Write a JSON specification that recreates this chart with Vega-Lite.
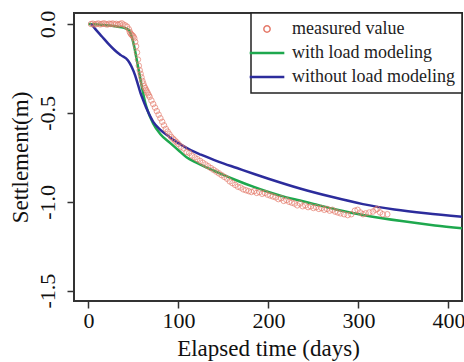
{
  "$schema": "https://vega.github.io/schema/vega-lite/v6.json",
  "width": 388,
  "height": 288,
  "autosize": {"type": "none"},
  "padding": {"left": 74, "top": 13, "right": 2, "bottom": 61},
  "background": "white",
  "config": {
    "font": "Liberation Serif",
    "view": {"stroke": "#333333", "strokeWidth": 2},
    "axis": {"grid": false, "domain": false, "tickColor": "#333333", "tickSize": 7, "tickWidth": 1.5, "labelColor": "#111111", "titleColor": "#111111", "labelFont": "Liberation Serif", "titleFont": "Liberation Serif", "titleFontWeight": "normal"},
    "legend": {"labelFont": "Liberation Serif", "labelFontSize": 18, "labelLimit": 400, "labelColor": "#222222", "strokeColor": "#222222", "padding": 7, "rowPadding": 6, "labelOffset": 16, "symbolSize": 1200, "orient": "top-right", "offset": 0, "fillColor": "white"}
  },
  "data": {"values": [
    {"day": 3, "s": 0.0, "series": "measured value"},
    {"day": 5, "s": 0.002, "series": "measured value"},
    {"day": 7, "s": -0.003, "series": "measured value"},
    {"day": 9, "s": 0.0, "series": "measured value"},
    {"day": 11, "s": 0.003, "series": "measured value"},
    {"day": 13, "s": -0.002, "series": "measured value"},
    {"day": 15, "s": 0.0, "series": "measured value"},
    {"day": 17, "s": 0.004, "series": "measured value"},
    {"day": 19, "s": 0.0, "series": "measured value"},
    {"day": 21, "s": -0.003, "series": "measured value"},
    {"day": 23, "s": 0.002, "series": "measured value"},
    {"day": 25, "s": 0.0, "series": "measured value"},
    {"day": 27, "s": 0.003, "series": "measured value"},
    {"day": 29, "s": -0.002, "series": "measured value"},
    {"day": 31, "s": 0.001, "series": "measured value"},
    {"day": 33, "s": -0.004, "series": "measured value"},
    {"day": 35, "s": 0.0, "series": "measured value"},
    {"day": 37, "s": 0.004, "series": "measured value"},
    {"day": 39, "s": -0.003, "series": "measured value"},
    {"day": 41, "s": -0.008, "series": "measured value"},
    {"day": 43, "s": -0.015, "series": "measured value"},
    {"day": 45, "s": -0.03, "series": "measured value"},
    {"day": 46, "s": -0.045, "series": "measured value"},
    {"day": 47, "s": -0.055, "series": "measured value"},
    {"day": 48, "s": -0.06, "series": "measured value"},
    {"day": 49, "s": -0.065, "series": "measured value"},
    {"day": 50, "s": -0.07, "series": "measured value"},
    {"day": 51, "s": -0.08, "series": "measured value"},
    {"day": 52, "s": -0.1, "series": "measured value"},
    {"day": 53, "s": -0.125, "series": "measured value"},
    {"day": 54, "s": -0.16, "series": "measured value"},
    {"day": 55, "s": -0.2, "series": "measured value"},
    {"day": 56, "s": -0.235, "series": "measured value"},
    {"day": 57, "s": -0.26, "series": "measured value"},
    {"day": 58, "s": -0.28, "series": "measured value"},
    {"day": 59, "s": -0.3, "series": "measured value"},
    {"day": 60, "s": -0.32, "series": "measured value"},
    {"day": 61, "s": -0.335, "series": "measured value"},
    {"day": 62, "s": -0.35, "series": "measured value"},
    {"day": 63, "s": -0.36, "series": "measured value"},
    {"day": 64, "s": -0.37, "series": "measured value"},
    {"day": 65, "s": -0.38, "series": "measured value"},
    {"day": 66, "s": -0.39, "series": "measured value"},
    {"day": 67, "s": -0.4, "series": "measured value"},
    {"day": 68, "s": -0.41, "series": "measured value"},
    {"day": 70, "s": -0.43, "series": "measured value"},
    {"day": 72, "s": -0.45, "series": "measured value"},
    {"day": 74, "s": -0.47, "series": "measured value"},
    {"day": 76, "s": -0.49, "series": "measured value"},
    {"day": 78, "s": -0.51, "series": "measured value"},
    {"day": 80, "s": -0.53, "series": "measured value"},
    {"day": 82, "s": -0.55, "series": "measured value"},
    {"day": 84, "s": -0.57, "series": "measured value"},
    {"day": 86, "s": -0.59, "series": "measured value"},
    {"day": 88, "s": -0.605, "series": "measured value"},
    {"day": 90, "s": -0.62, "series": "measured value"},
    {"day": 92, "s": -0.635, "series": "measured value"},
    {"day": 94, "s": -0.645, "series": "measured value"},
    {"day": 96, "s": -0.655, "series": "measured value"},
    {"day": 98, "s": -0.665, "series": "measured value"},
    {"day": 100, "s": -0.675, "series": "measured value"},
    {"day": 103, "s": -0.69, "series": "measured value"},
    {"day": 106, "s": -0.7, "series": "measured value"},
    {"day": 109, "s": -0.72, "series": "measured value"},
    {"day": 112, "s": -0.725, "series": "measured value"},
    {"day": 115, "s": -0.74, "series": "measured value"},
    {"day": 118, "s": -0.75, "series": "measured value"},
    {"day": 121, "s": -0.76, "series": "measured value"},
    {"day": 124, "s": -0.77, "series": "measured value"},
    {"day": 127, "s": -0.78, "series": "measured value"},
    {"day": 130, "s": -0.79, "series": "measured value"},
    {"day": 133, "s": -0.8, "series": "measured value"},
    {"day": 136, "s": -0.81, "series": "measured value"},
    {"day": 139, "s": -0.82, "series": "measured value"},
    {"day": 142, "s": -0.83, "series": "measured value"},
    {"day": 145, "s": -0.84, "series": "measured value"},
    {"day": 148, "s": -0.85, "series": "measured value"},
    {"day": 151, "s": -0.86, "series": "measured value"},
    {"day": 154, "s": -0.87, "series": "measured value"},
    {"day": 157, "s": -0.885, "series": "measured value"},
    {"day": 160, "s": -0.895, "series": "measured value"},
    {"day": 163, "s": -0.905, "series": "measured value"},
    {"day": 166, "s": -0.915, "series": "measured value"},
    {"day": 169, "s": -0.92, "series": "measured value"},
    {"day": 172, "s": -0.93, "series": "measured value"},
    {"day": 175, "s": -0.935, "series": "measured value"},
    {"day": 178, "s": -0.94, "series": "measured value"},
    {"day": 181, "s": -0.945, "series": "measured value"},
    {"day": 184, "s": -0.94, "series": "measured value"},
    {"day": 187, "s": -0.95, "series": "measured value"},
    {"day": 190, "s": -0.945, "series": "measured value"},
    {"day": 193, "s": -0.955, "series": "measured value"},
    {"day": 196, "s": -0.95, "series": "measured value"},
    {"day": 199, "s": -0.96, "series": "measured value"},
    {"day": 202, "s": -0.965, "series": "measured value"},
    {"day": 205, "s": -0.97, "series": "measured value"},
    {"day": 208, "s": -0.975, "series": "measured value"},
    {"day": 211, "s": -0.985, "series": "measured value"},
    {"day": 214, "s": -0.98, "series": "measured value"},
    {"day": 217, "s": -0.995, "series": "measured value"},
    {"day": 220, "s": -0.99, "series": "measured value"},
    {"day": 223, "s": -1.0, "series": "measured value"},
    {"day": 226, "s": -1.005, "series": "measured value"},
    {"day": 229, "s": -1.01, "series": "measured value"},
    {"day": 232, "s": -1.02, "series": "measured value"},
    {"day": 235, "s": -1.01, "series": "measured value"},
    {"day": 238, "s": -1.025, "series": "measured value"},
    {"day": 241, "s": -1.02, "series": "measured value"},
    {"day": 244, "s": -1.03, "series": "measured value"},
    {"day": 247, "s": -1.025, "series": "measured value"},
    {"day": 250, "s": -1.035, "series": "measured value"},
    {"day": 253, "s": -1.03, "series": "measured value"},
    {"day": 256, "s": -1.04, "series": "measured value"},
    {"day": 259, "s": -1.035, "series": "measured value"},
    {"day": 262, "s": -1.045, "series": "measured value"},
    {"day": 265, "s": -1.04, "series": "measured value"},
    {"day": 268, "s": -1.05, "series": "measured value"},
    {"day": 271, "s": -1.045, "series": "measured value"},
    {"day": 274, "s": -1.055, "series": "measured value"},
    {"day": 277, "s": -1.06, "series": "measured value"},
    {"day": 280, "s": -1.065, "series": "measured value"},
    {"day": 284, "s": -1.07, "series": "measured value"},
    {"day": 288, "s": -1.075, "series": "measured value"},
    {"day": 292, "s": -1.07, "series": "measured value"},
    {"day": 296, "s": -1.05, "series": "measured value"},
    {"day": 299, "s": -1.045, "series": "measured value"},
    {"day": 302, "s": -1.06, "series": "measured value"},
    {"day": 305, "s": -1.07, "series": "measured value"},
    {"day": 308, "s": -1.065, "series": "measured value"},
    {"day": 312, "s": -1.06, "series": "measured value"},
    {"day": 316, "s": -1.055, "series": "measured value"},
    {"day": 319, "s": -1.045, "series": "measured value"},
    {"day": 321, "s": -1.04, "series": "measured value"},
    {"day": 324, "s": -1.06, "series": "measured value"},
    {"day": 327, "s": -1.07, "series": "measured value"},
    {"day": 332, "s": -1.07, "series": "measured value"},
    {"day": 0, "s": 0.0, "series": "with load modeling"},
    {"day": 10, "s": -0.003, "series": "with load modeling"},
    {"day": 20, "s": -0.007, "series": "with load modeling"},
    {"day": 30, "s": -0.013, "series": "with load modeling"},
    {"day": 40, "s": -0.022, "series": "with load modeling"},
    {"day": 45, "s": -0.035, "series": "with load modeling"},
    {"day": 48, "s": -0.07, "series": "with load modeling"},
    {"day": 51, "s": -0.13, "series": "with load modeling"},
    {"day": 54, "s": -0.21, "series": "with load modeling"},
    {"day": 57, "s": -0.29, "series": "with load modeling"},
    {"day": 60, "s": -0.37, "series": "with load modeling"},
    {"day": 63, "s": -0.44, "series": "with load modeling"},
    {"day": 66, "s": -0.49, "series": "with load modeling"},
    {"day": 72, "s": -0.56, "series": "with load modeling"},
    {"day": 80, "s": -0.62, "series": "with load modeling"},
    {"day": 91, "s": -0.67, "series": "with load modeling"},
    {"day": 100, "s": -0.71, "series": "with load modeling"},
    {"day": 109, "s": -0.75, "series": "with load modeling"},
    {"day": 120, "s": -0.78, "series": "with load modeling"},
    {"day": 128, "s": -0.8, "series": "with load modeling"},
    {"day": 146, "s": -0.84, "series": "with load modeling"},
    {"day": 165, "s": -0.88, "series": "with load modeling"},
    {"day": 183, "s": -0.915, "series": "with load modeling"},
    {"day": 200, "s": -0.945, "series": "with load modeling"},
    {"day": 220, "s": -0.975, "series": "with load modeling"},
    {"day": 235, "s": -0.993, "series": "with load modeling"},
    {"day": 250, "s": -1.012, "series": "with load modeling"},
    {"day": 275, "s": -1.043, "series": "with load modeling"},
    {"day": 305, "s": -1.074, "series": "with load modeling"},
    {"day": 350, "s": -1.11, "series": "with load modeling"},
    {"day": 385, "s": -1.133, "series": "with load modeling"},
    {"day": 416, "s": -1.149, "series": "with load modeling"},
    {"day": 3, "s": 0.0, "series": "without load modeling"},
    {"day": 8, "s": -0.03, "series": "without load modeling"},
    {"day": 15, "s": -0.07, "series": "without load modeling"},
    {"day": 22, "s": -0.11, "series": "without load modeling"},
    {"day": 29, "s": -0.146, "series": "without load modeling"},
    {"day": 36, "s": -0.175, "series": "without load modeling"},
    {"day": 44, "s": -0.205, "series": "without load modeling"},
    {"day": 48, "s": -0.24, "series": "without load modeling"},
    {"day": 52, "s": -0.29, "series": "without load modeling"},
    {"day": 55, "s": -0.34, "series": "without load modeling"},
    {"day": 58, "s": -0.39, "series": "without load modeling"},
    {"day": 61, "s": -0.43, "series": "without load modeling"},
    {"day": 65, "s": -0.48, "series": "without load modeling"},
    {"day": 72, "s": -0.55, "series": "without load modeling"},
    {"day": 80, "s": -0.595, "series": "without load modeling"},
    {"day": 90, "s": -0.635, "series": "without load modeling"},
    {"day": 100, "s": -0.67, "series": "without load modeling"},
    {"day": 112, "s": -0.705, "series": "without load modeling"},
    {"day": 125, "s": -0.735, "series": "without load modeling"},
    {"day": 145, "s": -0.775, "series": "without load modeling"},
    {"day": 165, "s": -0.81, "series": "without load modeling"},
    {"day": 185, "s": -0.845, "series": "without load modeling"},
    {"day": 200, "s": -0.87, "series": "without load modeling"},
    {"day": 235, "s": -0.925, "series": "without load modeling"},
    {"day": 270, "s": -0.972, "series": "without load modeling"},
    {"day": 305, "s": -1.013, "series": "without load modeling"},
    {"day": 340, "s": -1.043, "series": "without load modeling"},
    {"day": 375, "s": -1.065, "series": "without load modeling"},
    {"day": 416, "s": -1.085, "series": "without load modeling"}
  ]},
  "encoding": {
    "x": {"field": "day", "type": "quantitative", "scale": {"domain": [-16, 415], "nice": false, "zero": false},
      "axis": {"values": [0, 100, 200, 300, 400], "title": "Elapsed time (days)", "labelFontSize": 22, "titleFontSize": 23, "labelPadding": 2, "titlePadding": 6, "labelFlush": false}},
    "y": {"field": "s", "type": "quantitative", "scale": {"domain": [-1.558, 0.062], "nice": false, "zero": false},
      "axis": {"values": [0, -0.5, -1, -1.5], "title": "Settlement(m)", "labelFontSize": 22, "titleFontSize": 23, "labelAngle": -90, "labelAlign": "center", "labelBaseline": "bottom", "labelPadding": 8, "titlePadding": 4, "labelFlush": false,
        "labelExpr": "datum.value == 0 ? '0.0' : '-' + format(abs(datum.value), '.1f')"}},
    "color": {"field": "series", "type": "nominal",
      "scale": {"domain": ["measured value", "with load modeling", "without load modeling"], "range": ["#e57a6a", "#1ea84e", "#2c2c9c"]},
      "legend": {"title": null, "symbolStrokeWidth": 2.5, "strokeColor": "#222222", "labelLimit": 400, "symbolSize": 1200,
        "encode": {
          "legend": {"update": {"stroke": {"value": "#222222"}, "strokeWidth": {"value": 1.5}, "fill": {"value": "white"}}},
          "symbols": {"update": {"size": {"signal": "datum.value === 'measured value' ? 40 : 1200"}, "strokeWidth": {"signal": "datum.value === 'measured value' ? 1.5 : 2.5"}}}}}}
  },
  "layer": [
    {"transform": [{"filter": "datum.series !== 'measured value'"}],
     "mark": {"type": "line", "strokeWidth": 2.5, "clip": true, "interpolate": "monotone"}},
    {"transform": [{"filter": "datum.series === 'measured value'"}],
     "mark": {"type": "point", "filled": false, "size": 30, "strokeWidth": 1, "clip": true},
     "encoding": {"shape": {"field": "series", "type": "nominal",
       "scale": {"domain": ["measured value", "with load modeling", "without load modeling"], "range": ["circle", "stroke", "stroke"]},
       "legend": {"title": null, "labelLimit": 400, "symbolSize": 1200}}}}
  ]
}
